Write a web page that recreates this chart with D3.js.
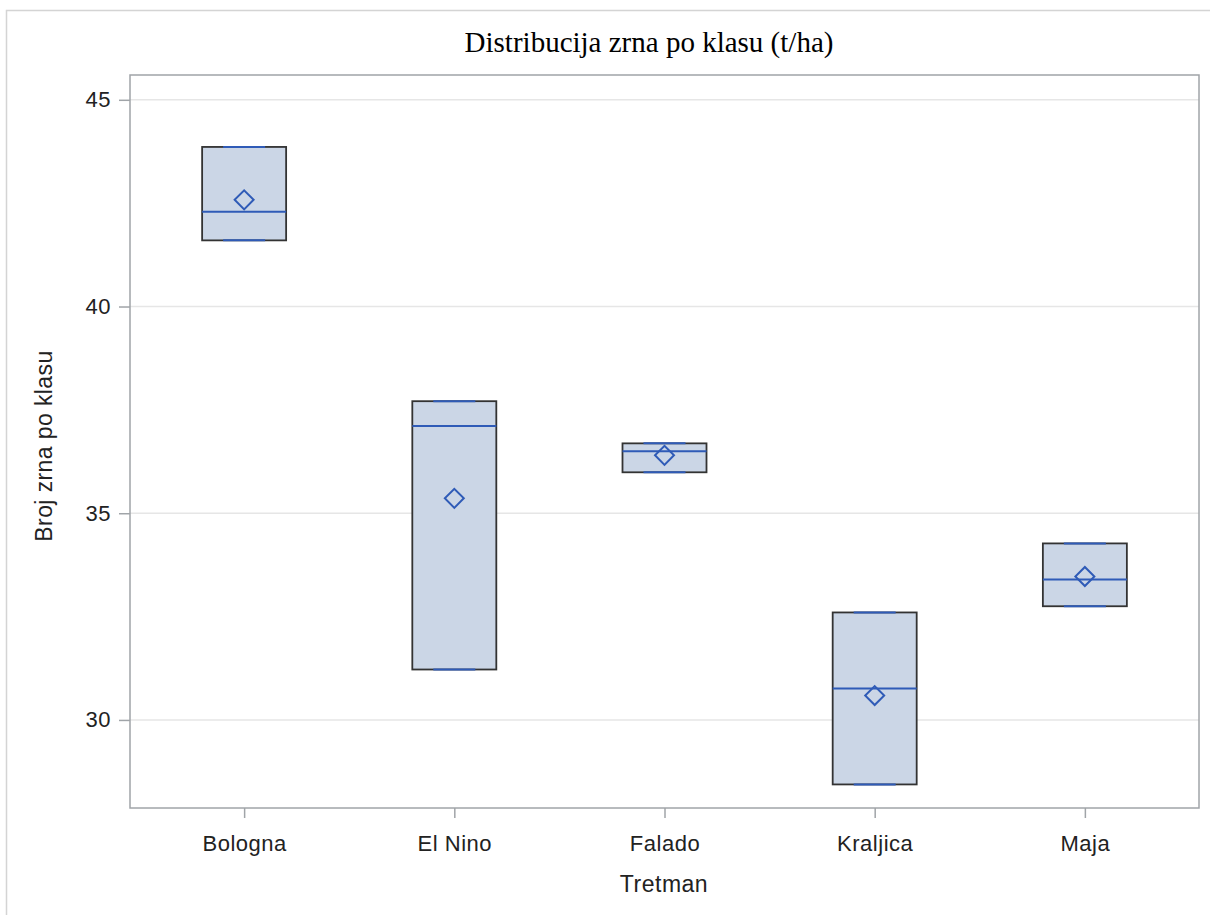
<!DOCTYPE html>
<html><head><meta charset="utf-8">
<script src="https://cdn.jsdelivr.net/npm/d3@7"></script>
<style>body{margin:0;background:#fff}svg{display:block}</style>
</head><body>
<svg id="c" width="1210" height="915"></svg>
<script>
const categories = ["Bologna","El Nino","Falado","Kraljica","Maja"];
const minVals    = [41.60, 31.22, 35.99, 28.44, 32.75];
const q1Vals     = [41.60, 31.22, 35.99, 28.44, 32.75];
const medianVals = [42.29, 37.11, 36.50, 30.76, 33.40];
const q3Vals     = [43.86, 37.71, 36.69, 32.60, 34.27];
const maxVals    = [43.86, 37.71, 36.69, 32.60, 34.27];
const meanVals   = [42.58, 35.36, 36.40, 30.59, 33.47];
const yTicks     = [30, 35, 40, 45];

const svg = d3.select("#c");
const L = 130, R = 1199, T = 75, B = 808;
const blue = "#2F5BB7";
const sans = "'Liberation Sans',Arial,sans-serif";

// outer frame
svg.append("path").attr("d","M6.5,915 V10.5 H1210").attr("fill","none").attr("stroke","#d4d4d4").attr("stroke-width",1.5);

const x = d3.scalePoint().domain(categories).range([L, R]).padding(0.543);
const y = d3.scaleLinear().domain([27.87, 45.6]).range([B, T]);

// grid
svg.append("g").selectAll("line").data(yTicks).join("line")
  .attr("x1", L).attr("x2", R).attr("y1", d=>y(d)).attr("y2", d=>y(d))
  .attr("stroke","#e6e6e6").attr("stroke-width",1.5);

// y axis
const yAx = svg.append("g").attr("transform",`translate(${L},0)`)
  .call(d3.axisLeft(y).tickValues(yTicks).tickSize(11).tickPadding(8).tickFormat(d3.format("d")));
yAx.select(".domain").remove();
yAx.selectAll(".tick line").attr("stroke","#a0a4a8").attr("stroke-width",1.5);
yAx.selectAll(".tick text").attr("fill","#222").style("font-family",sans).style("font-size","22px").style("letter-spacing","0.5px");

// x axis
const xAx = svg.append("g").attr("transform",`translate(0,${B})`)
  .call(d3.axisBottom(x).tickSize(10).tickPadding(0));
xAx.select(".domain").remove();
xAx.selectAll(".tick line").attr("stroke","#a0a4a8").attr("stroke-width",1.5);
xAx.selectAll(".tick text").attr("dy",null).attr("y",43).attr("fill","#222")
  .style("font-family",sans).style("font-size","22px").style("letter-spacing","0.5px");

// plot frame
svg.append("rect").attr("x",L).attr("y",T).attr("width",R-L).attr("height",B-T)
  .attr("fill","none").attr("stroke","#a0a4a8").attr("stroke-width",1.5);

// boxes
const bw = 84, cw = 42;
const g = svg.append("g");
categories.forEach((c,i)=>{
  const cx = x(c);
  g.append("rect").attr("x",cx-bw/2).attr("y",y(q3Vals[i])).attr("width",bw)
    .attr("height",y(q1Vals[i])-y(q3Vals[i]))
    .attr("fill","#CBD6E6").attr("stroke","#333").attr("stroke-width",1.8);
  g.append("line").attr("x1",cx).attr("x2",cx).attr("y1",y(q3Vals[i])).attr("y2",y(maxVals[i])).attr("stroke",blue).attr("stroke-width",1.5);
  g.append("line").attr("x1",cx).attr("x2",cx).attr("y1",y(q1Vals[i])).attr("y2",y(minVals[i])).attr("stroke",blue).attr("stroke-width",1.5);
  [minVals[i], maxVals[i]].forEach(v=>{
    g.append("line").attr("x1",cx-cw/2).attr("x2",cx+cw/2).attr("y1",y(v)).attr("y2",y(v))
      .attr("stroke",blue).attr("stroke-width",2);
  });
  g.append("line").attr("x1",cx-bw/2).attr("x2",cx+bw/2).attr("y1",y(medianVals[i])).attr("y2",y(medianVals[i]))
    .attr("stroke",blue).attr("stroke-width",2);
  g.append("path").attr("d", d3.symbol(d3.symbolSquare, 180)())
    .attr("transform",`translate(${cx},${y(meanVals[i])}) rotate(45)`)
    .attr("fill","none").attr("stroke",blue).attr("stroke-width",2);
});

// labels
svg.append("text").attr("x",649).attr("y",52).attr("text-anchor","middle")
  .style("font-family","'Liberation Serif','Times New Roman',serif").style("font-size","29px").attr("fill","#000")
  .text("Distribucija zrna po klasu (t/ha)");
svg.append("text").attr("x",664).attr("y",892).attr("text-anchor","middle")
  .style("font-family",sans).style("font-size","23px").style("letter-spacing","0.5px").attr("fill","#222")
  .text("Tretman");
svg.append("text").attr("transform",`translate(52,446) rotate(-90)`).attr("text-anchor","middle")
  .style("font-family",sans).style("font-size","23px").style("letter-spacing","0.4px").attr("fill","#222")
  .text("Broj zrna po klasu");
</script>
</body></html>
